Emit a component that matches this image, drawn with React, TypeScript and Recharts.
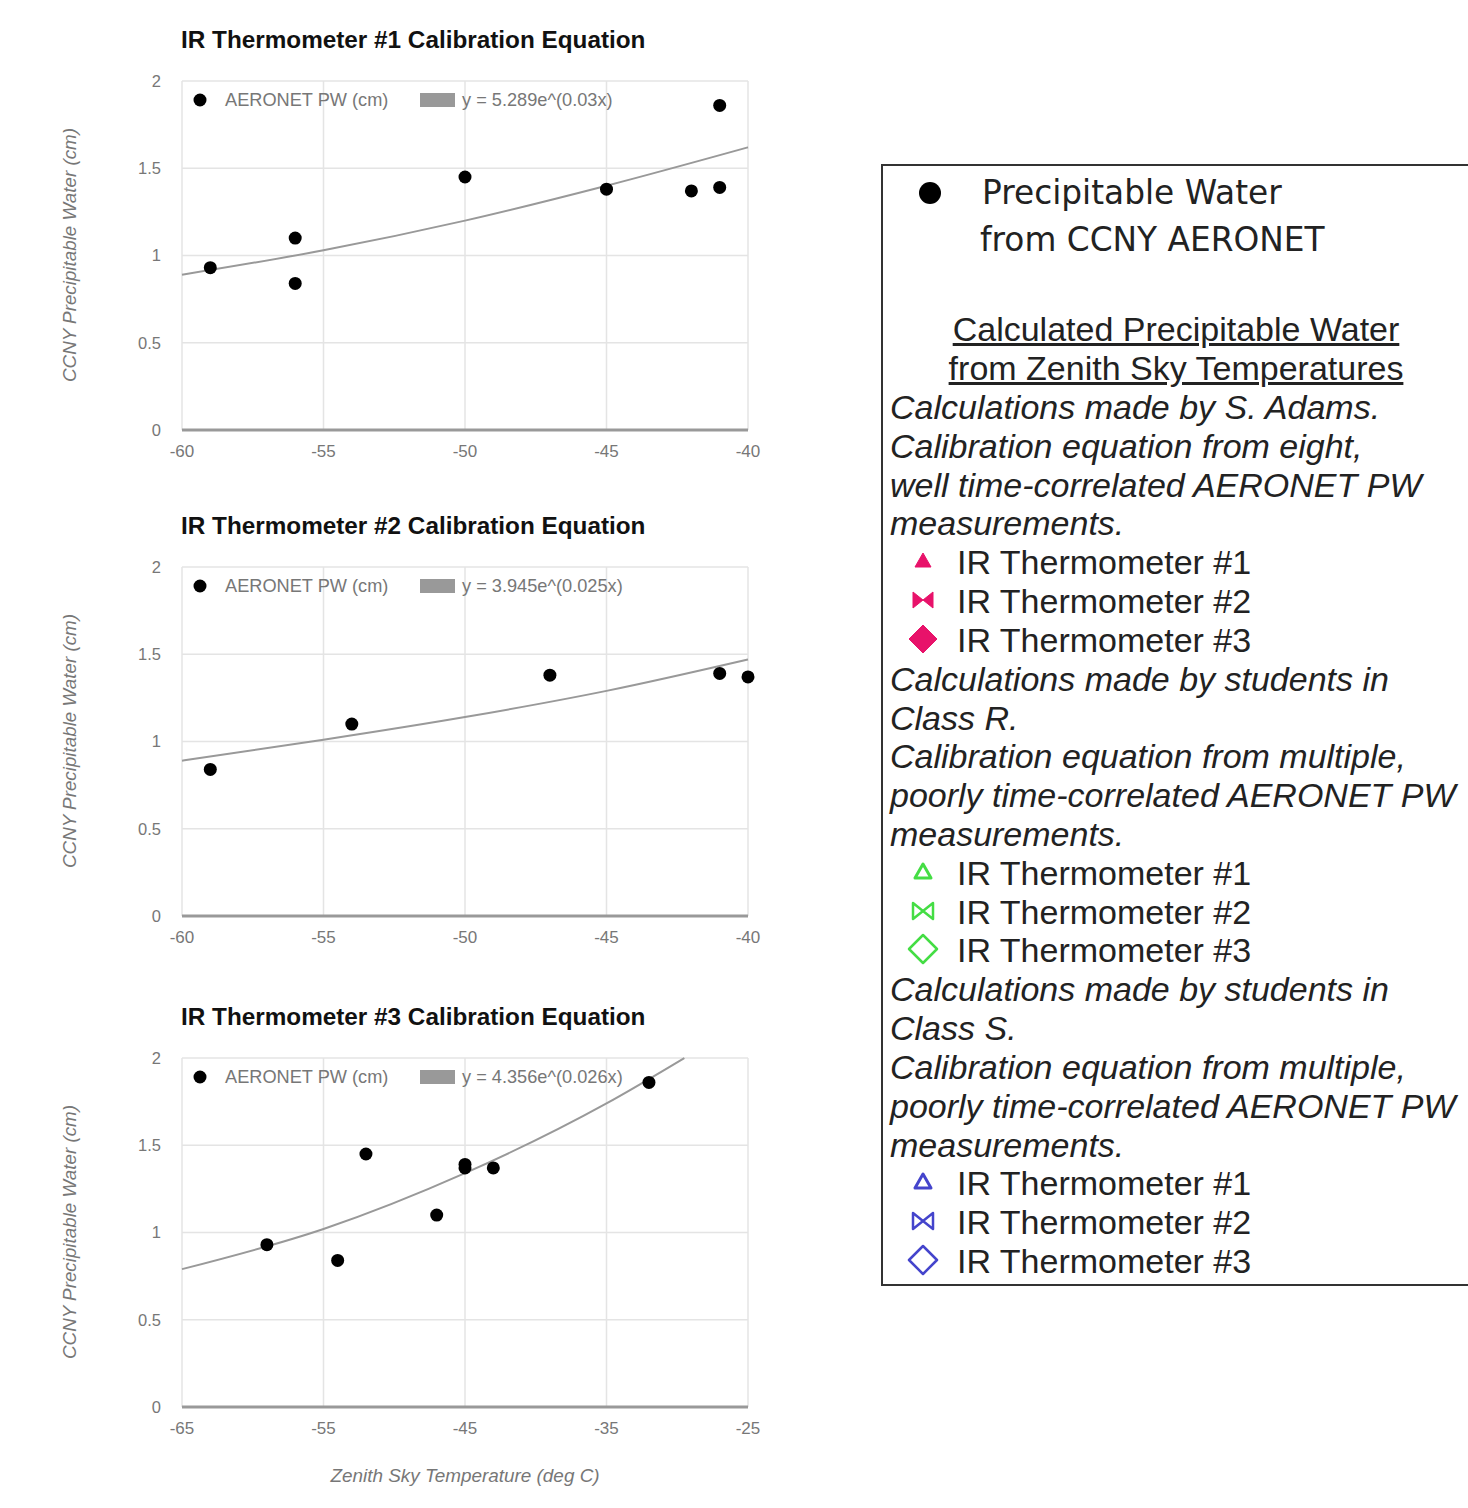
import { ComposedChart, Scatter, Line, XAxis, YAxis, CartesianGrid } from "recharts";

// AERONET PW points
const pw1X = [-59, -56, -56, -50, -45, -42, -41, -41];
const pw1Y = [0.93, 1.1, 0.84, 1.45, 1.38, 1.37, 1.39, 1.86];
const pw2X = [-59, -54, -47, -41, -40];
const pw2Y = [0.84, 1.1, 1.38, 1.39, 1.37];
const pw3X = [-59, -54, -52, -47, -45, -45, -43, -32];
const pw3Y = [0.93, 0.84, 1.45, 1.1, 1.39, 1.37, 1.37, 1.86];

// fitted curve
const fit1X = [-60, -55, -50, -45, -40];
const fit1Y = [0.89, 1.03, 1.2, 1.4, 1.62];
const fit2X = [-60, -55, -50, -45, -40];
const fit2Y = [0.89, 1.01, 1.14, 1.29, 1.47];
const fit3X = [-65, -55, -45, -35, -29.5];
const fit3Y = [0.79, 1.02, 1.34, 1.74, 2.0];

const ticksA = [-60, -55, -50, -45, -40];
const ticksB = [-65, -55, -45, -35, -25];
const yTicks = [0, 0.5, 1, 1.5, 2];

const equations = ["y = 5.289e^(0.03x)", "y = 3.945e^(0.025x)", "y = 4.356e^(0.026x)"];

const PINK = "#e8126a";
const GREEN = "#44dd44";
const BLUE = "#4444cc";

const zip = (xs: number[], ys: number[]) => xs.map((x, i) => ({ x, y: ys[i] }));

const Dot = (p: any) => <circle cx={p.cx} cy={p.cy} r={6.5} fill="#000" />;

function CalibChart({ top, n, pts, fit, ticks }: { top: number; n: number; pts: any[]; fit: any[]; ticks: number[] }) {
  const grey = "#777";
  return (
    <div style={{ position: "absolute", left: 0, top, width: 800, height: 490 }}>
      <ComposedChart width={800} height={490} margin={{ top: 81, right: 52, bottom: 30, left: 122 }}>
        <CartesianGrid stroke="#e4e4e4" strokeWidth={1.5} />
        <XAxis
          dataKey="x"
          type="number"
          domain={[ticks[0], ticks[ticks.length - 1]]}
          ticks={ticks}
          height={30}
          tickLine={false}
          tickSize={6}
          tickMargin={9}
          axisLine={{ stroke: "#999", strokeWidth: 3 }}
          tick={{ fill: grey, fontSize: 17 }}
        />
        <YAxis
          type="number"
          domain={[0, 2]}
          ticks={yTicks}
          width={60}
          axisLine={false}
          tickLine={false}
          tickSize={6}
          tickMargin={15}
          tick={{ fill: grey, fontSize: 16.5 }}
        />
        <Line data={fit} dataKey="y" type="monotone" stroke="#999" strokeWidth={2} dot={false} isAnimationActive={false} />
        <Scatter data={pts} dataKey="y" shape={Dot} isAnimationActive={false} />
      </ComposedChart>
      <div style={{ position: "absolute", left: 181, top: 27, fontSize: 24.3, fontWeight: "bold", lineHeight: "26px", color: "#111", whiteSpace: "nowrap" }}>
        IR Thermometer #{n} Calibration Equation
      </div>
      <div
        style={{
          position: "absolute",
          left: 70,
          top: 255,
          transform: "translate(-50%, -50%) rotate(-90deg)",
          fontSize: 18.8,
          fontStyle: "italic",
          color: grey,
          whiteSpace: "nowrap",
        }}
      >
        CCNY Precipitable Water (cm)
      </div>
      <svg style={{ position: "absolute", left: 0, top: 0 }} width={800} height={130}>
        <circle cx={200} cy={100} r={6.5} fill="#000" />
        <text x={225} y={106} fontSize={18.2} fill={grey}>AERONET PW (cm)</text>
        <rect x={420} y={93} width={35} height={14} fill="#999" />
        <text x={462} y={106} fontSize={18.2} fill={grey}>{equations[n - 1]}</text>
      </svg>
    </div>
  );
}

const Tri = ({ c, fill }: { c: string; fill: boolean }) => (
  <svg width={30} height={24}>
    <polygon points="15,4 23,18 7,18" fill={fill ? c : "none"} stroke={c} strokeWidth={fill ? 1 : 3} strokeLinejoin="round" />
  </svg>
);
const Bow = ({ c, fill }: { c: string; fill: boolean }) => (
  <svg width={30} height={24}>
    <polygon points="5,4 15,12 5,20" fill={fill ? c : "none"} stroke={c} strokeWidth={fill ? 1 : 2.5} strokeLinejoin="round" />
    <polygon points="25,4 15,12 25,20" fill={fill ? c : "none"} stroke={c} strokeWidth={fill ? 1 : 2.5} strokeLinejoin="round" />
  </svg>
);
const Dia = ({ c, fill }: { c: string; fill: boolean }) => (
  <svg width={34} height={32}>
    <polygon points="17,2 31,16 17,30 3,16" fill={fill ? c : "none"} stroke={c} strokeWidth={fill ? 1 : 2.5} strokeLinejoin="round" />
  </svg>
);

const STEP = 38.82;
const lines: { t: string; kind?: "tri" | "bow" | "dia"; c?: string; fill?: boolean }[] = [
  { t: "Calculations made by S. Adams." },
  { t: "Calibration equation from eight," },
  { t: "well time-correlated AERONET PW" },
  { t: "measurements." },
  { t: "IR Thermometer #1", kind: "tri", c: PINK, fill: true },
  { t: "IR Thermometer #2", kind: "bow", c: PINK, fill: true },
  { t: "IR Thermometer #3", kind: "dia", c: PINK, fill: true },
  { t: "Calculations made by students in" },
  { t: "Class R." },
  { t: "Calibration equation from multiple," },
  { t: "poorly time-correlated AERONET PW" },
  { t: "measurements." },
  { t: "IR Thermometer #1", kind: "tri", c: GREEN, fill: false },
  { t: "IR Thermometer #2", kind: "bow", c: GREEN, fill: false },
  { t: "IR Thermometer #3", kind: "dia", c: GREEN, fill: false },
  { t: "Calculations made by students in" },
  { t: "Class S." },
  { t: "Calibration equation from multiple," },
  { t: "poorly time-correlated AERONET PW" },
  { t: "measurements." },
  { t: "IR Thermometer #1", kind: "tri", c: BLUE, fill: false },
  { t: "IR Thermometer #2", kind: "bow", c: BLUE, fill: false },
  { t: "IR Thermometer #3", kind: "dia", c: BLUE, fill: false },
];

function KeyBox() {
  const txt = "#222";
  return (
    <>
      <div style={{ position: "absolute", left: 881, top: 164, width: 640, height: 1122, border: "2px solid #333", boxSizing: "border-box" }} />
      <svg style={{ position: "absolute", left: 915, top: 178 }} width={30} height={30}>
        <circle cx={15} cy={15} r={11} fill="#000" />
      </svg>
      <div style={{ position: "absolute", left: 982, top: 174, fontFamily: "DejaVu Sans", fontSize: 32.8, lineHeight: "38px", color: txt, whiteSpace: "nowrap" }}>
        Precipitable Water
      </div>
      <div style={{ position: "absolute", left: 980, top: 221, fontFamily: "DejaVu Sans", fontSize: 32.8, lineHeight: "38px", color: txt, whiteSpace: "nowrap" }}>
        from CCNY AERONET
      </div>
      {["Calculated Precipitable Water", "from Zenith Sky Temperatures"].map((s, i) => (
        <div
          key={s}
          style={{
            position: "absolute",
            left: 1176,
            top: 312 + i * 39,
            transform: "translateX(-50%)",
            fontSize: 34,
            lineHeight: "34px",
            color: txt,
            textDecoration: "underline",
            whiteSpace: "nowrap",
          }}
        >
          {s}
        </div>
      ))}
      {lines.map((l, i) => {
        const cy = 408 + i * STEP;
        if (!l.kind) {
          return (
            <div key={i} style={{ position: "absolute", left: 890, top: cy - 18, fontSize: 34, lineHeight: "34px", fontStyle: "italic", color: txt, whiteSpace: "nowrap" }}>
              {l.t}
            </div>
          );
        }
        const Sym = l.kind === "tri" ? Tri : l.kind === "bow" ? Bow : Dia;
        const w = l.kind === "dia" ? 34 : 30;
        const h = l.kind === "dia" ? 32 : 24;
        return (
          <div key={i}>
            <div style={{ position: "absolute", left: 923 - w / 2, top: cy - 2 - h / 2, width: w, height: h }}>
              <Sym c={l.c!} fill={!!l.fill} />
            </div>
            <div style={{ position: "absolute", left: 957, top: cy - 18, fontSize: 34, lineHeight: "34px", color: txt, whiteSpace: "nowrap" }}>
              {l.t}
            </div>
          </div>
        );
      })}
    </>
  );
}

export default function App() {
  return (
    <div
      style={{
        position: "absolute",
        left: 0,
        top: 0,
        width: 1468,
        height: 1508,
        overflow: "hidden",
        background: "#fff",
        fontFamily: "'Liberation Sans', Arial, sans-serif",
      }}
    >
      <CalibChart top={0} n={1} pts={zip(pw1X, pw1Y)} fit={zip(fit1X, fit1Y)} ticks={ticksA} />
      <CalibChart top={486} n={2} pts={zip(pw2X, pw2Y)} fit={zip(fit2X, fit2Y)} ticks={ticksA} />
      <CalibChart top={977} n={3} pts={zip(pw3X, pw3Y)} fit={zip(fit3X, fit3Y)} ticks={ticksB} />
      <div style={{ position: "absolute", left: 465, top: 1465, transform: "translateX(-50%)", fontSize: 18.9, fontStyle: "italic", color: "#777", whiteSpace: "nowrap" }}>
        Zenith Sky Temperature (deg C)
      </div>
      <KeyBox />
    </div>
  );
}
